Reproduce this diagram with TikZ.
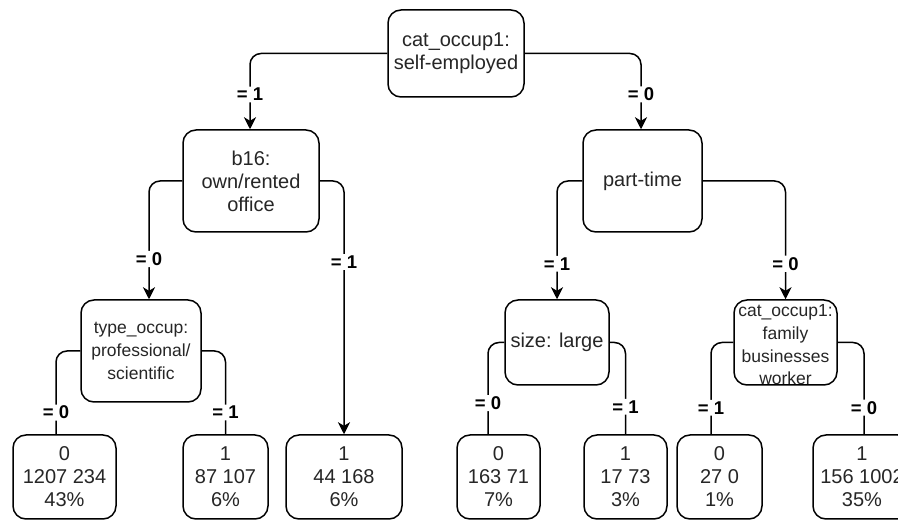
\documentclass[tikz,border=0pt]{standalone}
\usepackage{fontspec}
\setmainfont{Liberation Sans}
\usetikzlibrary{arrows.meta}
\begin{document}
\begin{tikzpicture}[x=1pt,y=1pt,
  box/.style={draw, line width=1.5pt, rounded corners=13pt, fill=white,
    align=center, inner sep=0pt, text=black!85,
    font=\fontsize{20}{23}\selectfont},
  smalltext/.style={font=\fontsize{17.5}{22.7}\selectfont},
  split/.style={draw, line width=1.5pt, rounded corners=11pt},
  arr/.style={split, -{Stealth[length=12pt,width=12pt,inset=3.5pt]}},
  cond/.style={fill=white, inner sep=1.5pt, text=black,
    font=\bfseries\fontsize{18.5}{20}\selectfont}
]
\useasboundingbox (0,0) rectangle (898,-521);
\clip (0,0) rectangle (898,-521);

% decision nodes
\node[box, minimum width=136pt, minimum height=87pt] (root) at (456,-53.5)
  {cat\_occup1:\\self-employed};
\node[box, minimum width=136pt, minimum height=102pt] (b16) at (251,-181)
  {b16:\\own/rented\\office};
\node[box, minimum width=119pt, minimum height=102pt] (pt) at (642.5,-181)
  {part-time};
\node[box, smalltext, minimum width=120pt, minimum height=102pt] (typ) at (141,-351)
  {type\_occup:\\professional/\\scientific};
\node[box, minimum width=104pt, minimum height=85pt] (size) at (557,-342.5)
  {size: large};
\node[box, minimum width=103pt, minimum height=85pt] (fam) at (785.5,-342.5)
  {\smash{\raisebox{-8pt}{\fontsize{17.5}{22.7}\selectfont\begin{tabular}{@{}c@{}}cat\_occup1:\\family\\businesses\\worker\end{tabular}}}};

% leaves
\node[box, minimum width=103pt, minimum height=84pt] (l1) at (64.5,-477) {0\\1207 234\\43\%};
\node[box, minimum width=85pt,  minimum height=84pt] (l2) at (225.5,-477) {1\\87 107\\6\%};
\node[box, minimum width=116pt, minimum height=84pt] (l3) at (344,-477) {1\\44 168\\6\%};
\node[box, minimum width=83pt,  minimum height=84pt] (l4) at (498.5,-477) {0\\163 71\\7\%};
\node[box, minimum width=83pt,  minimum height=84pt] (l5) at (625.5,-477) {1\\17 73\\3\%};
\node[box, minimum width=85pt,  minimum height=84pt] (l6) at (719.5,-477) {0\\27 0\\1\%};
\node[box, minimum width=98pt,  minimum height=84pt] (l7) at (862,-477) {1\\156 1002\\35\%};

% branches
\draw[arr] (root.west) -| ([xshift=-1pt]b16.north) node[cond, pos=0.77] {= 1};
\draw[arr] (root.east) -| ([xshift=-1.5pt]pt.north) node[cond, pos=0.77] {= 0};

\draw[arr] (b16.west) -| ([xshift=8pt]typ.north) node[cond, pos=0.83] {= 0};
\draw[arr] (b16.east) -| (l3.north) node[cond, pos=0.66] {= 1};

\draw[arr] (pt.west) -| (size.north) node[cond, pos=0.85] {= 1};
\draw[arr] (pt.east) -| (fam.north) node[cond, pos=0.85] {= 0};

\draw[split] (typ.west) -| ([xshift=-8.5pt]l1.north) node[cond, pos=0.87] {= 0};
\draw[split] (typ.east) -| (l2.north) node[cond, pos=0.87] {= 1};

\draw[split] (size.west) -| ([xshift=-10.5pt]l4.north) node[cond, pos=0.83] {= 0};
\draw[split] (size.east) -| (l5.north) node[cond, pos=0.85] {= 1};

\draw[split] (fam.west) -| ([xshift=-8.5pt]l6.north) node[cond, pos=0.855] {= 1};
\draw[split] (fam.east) -| ([xshift=2pt]l7.north) node[cond, pos=0.855] {= 0};
\end{tikzpicture}
\end{document}
